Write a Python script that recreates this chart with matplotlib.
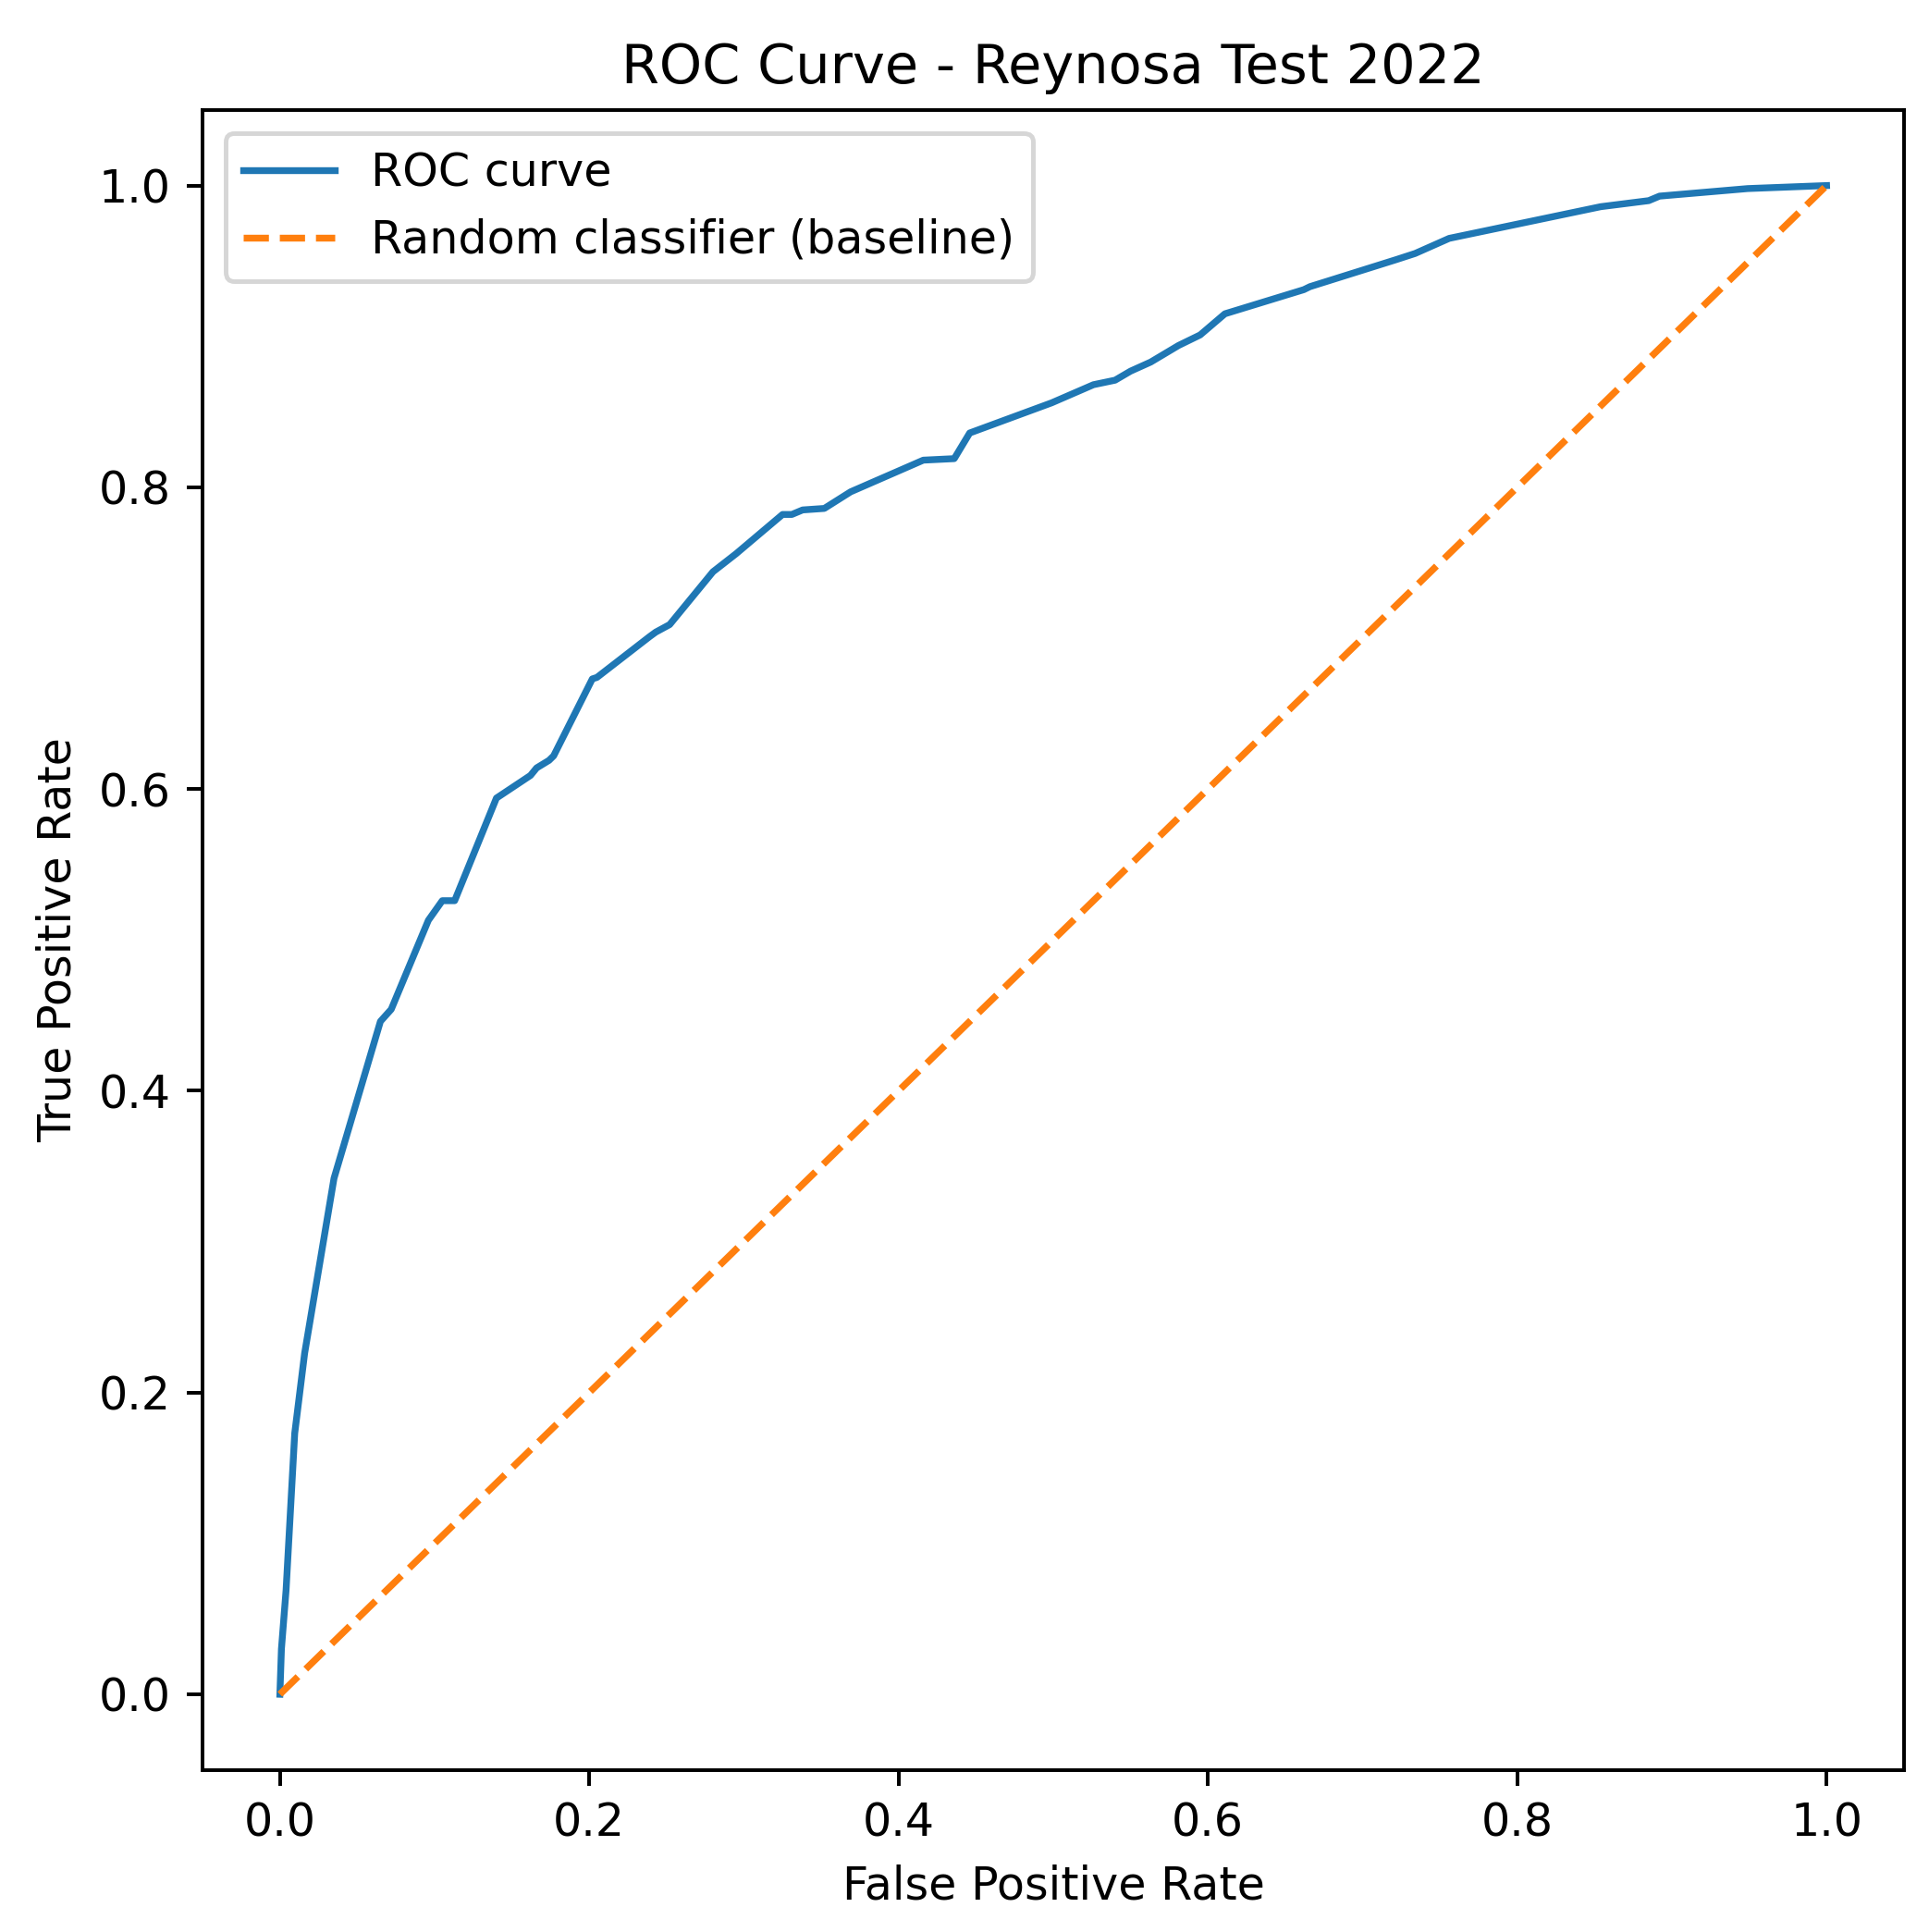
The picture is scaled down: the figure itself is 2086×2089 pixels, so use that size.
import matplotlib
matplotlib.use('Agg')
import matplotlib.pyplot as plt

# ROC points
fpr = [0.0, 0.001, 0.004, 0.0096, 0.016, 0.035, 0.065, 0.072, 0.096, 0.105,
       0.113, 0.140, 0.162, 0.166, 0.174, 0.177, 0.202, 0.205, 0.239, 0.243,
       0.252, 0.280, 0.295, 0.325, 0.331, 0.338, 0.352, 0.369, 0.416, 0.436,
       0.446, 0.499, 0.526, 0.540, 0.550, 0.563, 0.581, 0.595, 0.611, 0.662,
       0.666, 0.722, 0.734, 0.756, 0.854, 0.885, 0.892, 0.949, 1.0]
tpr = [0.0, 0.030, 0.069, 0.173, 0.226, 0.342, 0.446, 0.454, 0.513, 0.526,
       0.526, 0.594, 0.609, 0.614, 0.619, 0.622, 0.673, 0.674, 0.701, 0.704,
       0.709, 0.744, 0.756, 0.782, 0.782, 0.785, 0.786, 0.797, 0.818, 0.819,
       0.836, 0.856, 0.868, 0.871, 0.877, 0.883, 0.894, 0.901, 0.915, 0.931,
       0.933, 0.951, 0.955, 0.965, 0.986, 0.990, 0.993, 0.998, 1.0]
base = [0, 1]

dpi = 354
fig = plt.figure(figsize=(2086 / dpi, 2089 / dpi), dpi=dpi)
ax = fig.add_axes([0.105, 0.084, 0.882, 0.859])
ax.plot(fpr, tpr, label='ROC curve')
ax.plot(base, base, '--', label='Random classifier (baseline)')
ax.set_xlabel('False Positive Rate')
ax.set_ylabel('True Positive Rate')
ax.set_title('ROC Curve - Reynosa Test 2022')
ax.legend(loc='upper left')
fig.savefig('out.png', dpi=dpi)
